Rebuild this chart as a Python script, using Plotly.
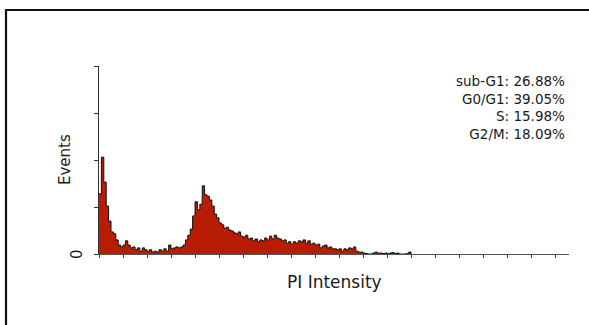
import plotly.graph_objects as go

# PI channel of each histogram bin and the event count in that bin
channel = [5 * i for i in range(131)]
events = [
    128, 206, 153, 102, 70, 47, 43, 30, 19, 15,
    19, 28, 19, 13, 15, 9, 13, 6, 13, 9,
    6, 9, 4, 6, 4, 9, 6, 11, 6, 19,
    11, 13, 15, 13, 15, 19, 30, 40, 53, 81,
    111, 94, 106, 145, 126, 123, 115, 102, 85, 77,
    66, 62, 55, 57, 51, 49, 45, 43, 47, 38,
    36, 40, 32, 34, 28, 32, 26, 30, 28, 34,
    30, 38, 32, 40, 34, 32, 28, 30, 23, 26,
    21, 26, 23, 28, 26, 30, 23, 28, 21, 23,
    19, 21, 13, 17, 19, 13, 15, 11, 11, 9,
    11, 6, 11, 9, 13, 11, 15, 6, 4, 4,
    2, 1, 0, 0, 2, 4, 2, 2, 1, 2,
    1, 2, 3, 1, 2, 0, 0, 0, 1, 4,
    0,
]

phase_labels = ["sub-G1", "G0/G1", "S", "G2/M"]
phase_pct = [26.88, 39.05, 15.98, 18.09]

x_ticks = list(range(0, 1000, 50))
y_ticks = [0, 100, 200, 300, 400]

W, H = 589, 325
L, R, T, B = 99, 20, 66, 71
PW, PH = W - L - R, H - T - B


def px_x(px):
    return (px - L) / PW


def px_y(py):
    return (H - B - py) / PH


fig = go.Figure()
fig.add_trace(go.Scatter(
    x=channel, y=events, mode="lines", line_shape="hv",
    line=dict(color="#111111", width=1),
    fill="tozeroy", fillcolor="#B81C02",
    hoverinfo="skip", showlegend=False,
))

font = "DejaVu Sans, Arial, sans-serif"
stats_text = "<br>".join(f"{lab}: {pct:.2f}%" for lab, pct in zip(phase_labels, phase_pct))
annotations = [
    dict(
        text=stats_text, xref="paper", yref="paper", align="right",
        x=px_x(567), y=px_y(107), xanchor="right", yanchor="middle",
        showarrow=False, font=dict(family=font, size=13.5, color="#1a1a1a"),
    ),
    dict(
        text="PI Intensity", xref="paper", yref="paper",
        x=px_x(334), y=px_y(282), xanchor="center", yanchor="middle",
        showarrow=False, font=dict(family=font, size=17, color="#1a1a1a"),
    ),
    dict(
        text="Events", xref="paper", yref="paper", textangle=-90,
        x=px_x(65), y=px_y(160), xanchor="center", yanchor="middle",
        showarrow=False, font=dict(family=font, size=15, color="#1a1a1a"),
    ),
    dict(
        text="0", xref="paper", yref="y", textangle=-90,
        x=px_x(77), y=0, xanchor="center", yanchor="middle",
        showarrow=False, font=dict(family=font, size=15, color="#1a1a1a"),
    ),
]

fig.update_layout(
    width=W, height=H,
    margin=dict(l=L, r=R, t=T, b=B, pad=0),
    paper_bgcolor="white", plot_bgcolor="white",
    annotations=annotations,
    shapes=[dict(
        type="rect", xref="paper", yref="paper",
        x0=px_x(6), x1=px_x(600), y0=px_y(340), y1=px_y(10),
        line=dict(color="#111111", width=2.2), fillcolor="rgba(0,0,0,0)",
        layer="above",
    )],
    xaxis=dict(
        range=[0, 979], tickmode="array", tickvals=x_ticks,
        showticklabels=False, ticks="outside", ticklen=3, tickwidth=1,
        tickcolor="#333", showline=True, linecolor="#555", linewidth=1,
        showgrid=False, zeroline=False, fixedrange=True,
    ),
    yaxis=dict(
        range=[0, 400], tickmode="array", tickvals=y_ticks,
        showticklabels=False,
        ticks="outside", ticklen=4, tickwidth=1, tickcolor="#333",
        showline=True, linecolor="#333", linewidth=1,
        showgrid=False, zeroline=False, fixedrange=True,
    ),
)

fig.write_html("out.html", config={"displayModeBar": False})
